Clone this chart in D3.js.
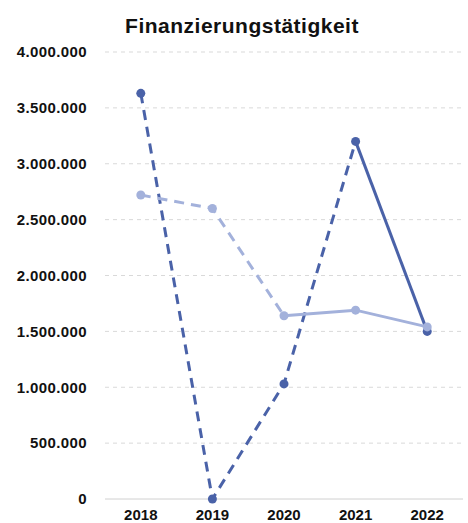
<!DOCTYPE html>
<html>
<head>
<meta charset="utf-8">
<script src="https://cdn.jsdelivr.net/npm/d3@7"></script>
<style>
  body { margin: 0; background: #fff; }
  text { font-family: 'Liberation Sans', Arial, sans-serif; }
</style>
</head>
<body>
<div id="chart"></div>
<script>
const years = ['2018', '2019', '2020', '2021', '2022'];
const darkValues = [3630000, 0, 1030000, 3200000, 1500000];
const lightValues = [2720000, 2600000, 1640000, 1690000, 1540000];
const yTicks = [0, 500000, 1000000, 1500000, 2000000, 2500000, 3000000, 3500000, 4000000];
// index where the dashed part of each line ends and the solid part starts
const darkSolidFrom = 3;
const lightSolidFrom = 2;

const width = 468;
const height = 523;
const margin = { top: 52, right: 5, bottom: 24, left: 105 };

const svg = d3.select('#chart').append('svg').attr('width', width).attr('height', height);

const x = d3.scaleBand().domain(years).range([margin.left, width - margin.right]);
const y = d3.scaleLinear().domain([0, 4000000]).range([height - margin.bottom, margin.top]);

const fmt = (v) => d3.format(',')(v).replace(/,/g, '.');

svg.append('text')
  .attr('x', 242)
  .attr('y', 33)
  .attr('text-anchor', 'middle')
  .style('font-size', '21px')
  .style('font-weight', 'bold')
  .style('letter-spacing', '0.5px')
  .attr('fill', '#111')
  .text('Finanzierungstätigkeit');

// grid
svg.append('g')
  .selectAll('line')
  .data(yTicks)
  .join('line')
  .attr('x1', margin.left)
  .attr('x2', width - margin.right)
  .attr('y1', (d) => y(d))
  .attr('y2', (d) => y(d))
  .attr('stroke', (d) => (d === 0 ? '#d0d0d0' : '#d9d9d9'))
  .attr('stroke-dasharray', (d) => (d === 0 ? null : '4,4'));

const yAxis = svg.append('g')
  .attr('transform', `translate(${margin.left - 15},0)`)
  .call(d3.axisLeft(y).tickValues(yTicks).tickFormat(fmt).tickSize(0));
yAxis.select('.domain').remove();
yAxis.selectAll('text')
  .style('font-size', '15px')
  .style('font-weight', 'bold')
  .style('letter-spacing', '0.4px')
  .attr('fill', '#111');

const xAxis = svg.append('g')
  .attr('transform', `translate(0,${height - margin.bottom + 7})`)
  .call(d3.axisBottom(x).tickSize(0));
xAxis.select('.domain').remove();
xAxis.selectAll('text').style('font-size', '15px').style('font-weight', 'bold').attr('fill', '#111');

const cx = (i) => x(years[i]) + x.bandwidth() / 2;
const line = d3.line().x((d) => cx(d[0])).y((d) => y(d[1]));

function drawSeries(values, solidFrom, color) {
  const pts = values.map((v, i) => [i, v]);
  svg.append('path')
    .attr('d', line(pts.slice(0, solidFrom + 1)))
    .attr('fill', 'none')
    .attr('stroke', color)
    .attr('stroke-width', 3)
    .attr('stroke-dasharray', '10,7');
  svg.append('path')
    .attr('d', line(pts.slice(solidFrom)))
    .attr('fill', 'none')
    .attr('stroke', color)
    .attr('stroke-width', 3);
  svg.append('g')
    .selectAll('circle')
    .data(pts)
    .join('circle')
    .attr('cx', (d) => cx(d[0]))
    .attr('cy', (d) => y(d[1]))
    .attr('r', 4.5)
    .attr('fill', color);
}

drawSeries(darkValues, darkSolidFrom, '#4a62a8');
drawSeries(lightValues, lightSolidFrom, '#a3b1db');
</script>
</body>
</html>
